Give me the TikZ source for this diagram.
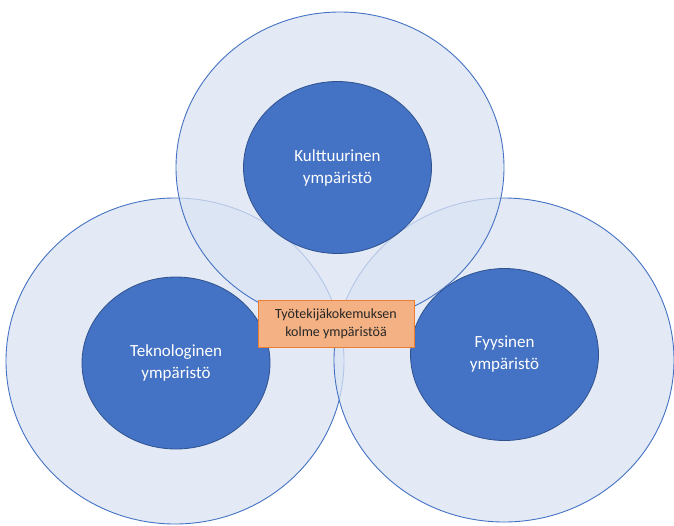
\documentclass[tikz,border=0pt]{standalone}
\usepackage{fontspec}
\setmainfont{Carlito}
\usetikzlibrary{shapes.geometric}
\definecolor{outerfill}{HTML}{DAE3F3}
\definecolor{outerline}{HTML}{4472C4}
\definecolor{innerfill}{HTML}{4472C4}
\definecolor{innerline}{HTML}{2F528F}
\definecolor{boxfill}{HTML}{F4B183}
\definecolor{boxline}{HTML}{ED7D31}
\definecolor{boxtext}{HTML}{262626}
\tikzset{
  outer/.style={ellipse, draw=outerline, line width=0.9pt, fill=outerfill, fill opacity=0.75, inner sep=0pt},
  inner/.style={ellipse, draw=innerline, line width=0.8pt, fill=innerfill, inner sep=0pt,
    text=white, font=\fontsize{17}{22}\selectfont, align=center},
  centerbox/.style={rectangle, draw=boxline, line width=0.9pt, fill=boxfill, text=boxtext,
    font=\fontsize{14}{18}\selectfont, align=center, minimum width=156pt, minimum height=47pt, inner sep=0pt}
}
\begin{document}
\begin{tikzpicture}[x=1pt,y=-1pt]
\useasboundingbox (0,0) rectangle (674,525);
% outer circles
\node[outer, minimum width=338pt, minimum height=326pt] (leftouter) at (175,361) {};
\node[outer, minimum width=340pt, minimum height=324pt] (rightouter) at (504,360) {};
\node[outer, minimum width=328pt, minimum height=311pt] (topouter) at (340,167.5) {};
% inner ellipses
\node[inner, minimum width=188pt, minimum height=172pt] (culture) at (337.5,167.5) {Kulttuurinen\\ympäristö};
\node[inner, minimum width=188pt, minimum height=172pt] (tech) at (176,363) {Teknologinen\\ympäristö};
\node[inner, minimum width=188pt, minimum height=172pt] (phys) at (504.5,354.5) {Fyysinen\\ympäristö};
% central box
\node[centerbox] (title) at (336,323.5) {Työtekijäkokemuksen\\kolme ympäristöä};
\end{tikzpicture}
\end{document}
